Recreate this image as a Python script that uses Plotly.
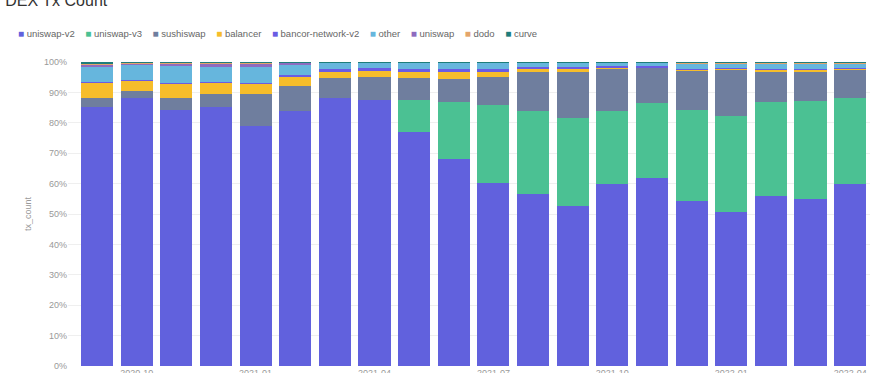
import plotly.graph_objects as go

months = ["2020-09", "2020-10", "2020-11", "2020-12", "2021-01", "2021-02", "2021-03",
          "2021-04", "2021-05", "2021-06", "2021-07", "2021-08", "2021-09", "2021-10",
          "2021-11", "2021-12", "2022-01", "2022-02", "2022-03", "2022-04"]
tick_months = ["2020-10", "2021-01", "2021-04", "2021-07", "2021-10", "2022-01", "2022-04"]

uniswap_v2 = [85.3, 88.0, 84.3, 85.2, 79.1, 83.8, 88.2, 87.7, 77.0, 68.2,
              60.3, 56.5, 52.6, 60.0, 62.0, 54.3, 50.5, 55.9, 55.1, 60.0]
uniswap_v3 = [0, 0, 0, 0, 0, 0, 0, 0, 10.4, 18.6,
              25.6, 27.3, 29.0, 23.8, 24.6, 29.8, 31.8, 30.9, 32.1, 28.2]
sushiswap = [3.0, 2.5, 3.9, 4.4, 10.3, 8.3, 6.4, 7.4, 7.3, 7.5,
             9.3, 12.7, 15.0, 14.0, 11.6, 13.0, 15.1, 10.2, 9.8, 9.3]
balancer = [5.0, 3.3, 4.7, 3.6, 3.5, 3.0, 2.4, 1.9, 2.0, 2.2,
            1.6, 1.0, 1.0, 0.3, 0.2, 0.5, 0.4, 0.5, 0.5, 0.4]
bancor_network_v2 = [0.1, 0.2, 0.2, 0.3, 0.3, 0.5, 0.6, 1.0, 0.9, 1.3,
                     1.1, 0.9, 0.9, 0.6, 0.3, 0.1, 0.1, 0.1, 0.1, 0.1]
other = [4.9, 4.9, 5.6, 4.9, 5.2, 3.3, 2.2, 1.9, 2.2, 2.0,
         2.0, 1.4, 1.4, 1.0, 1.2, 1.9, 1.7, 2.0, 2.0, 1.6]
uniswap = [0.8, 0.7, 0.7, 1.2, 1.0, 0.8, 0.1, 0.05, 0.05, 0.05,
           0.05, 0.05, 0.05, 0.2, 0.05, 0.05, 0.05, 0.05, 0.05, 0.05]
dodo = [0.5, 0.3, 0.5, 0.3, 0.5, 0.2, 0.05, 0.05, 0.05, 0.05,
        0.05, 0.05, 0.05, 0.05, 0.05, 0.3, 0.3, 0.3, 0.3, 0.3]
curve = [0.4, 0.1, 0.1, 0.1, 0.1, 0.1, 0.05, 0.05, 0.05, 0.05,
         0.05, 0.05, 0.05, 0.05, 0.05, 0.05, 0.05, 0.05, 0.05, 0.05]

series_names = ["uniswap-v2", "uniswap-v3", "sushiswap", "balancer", "bancor-network-v2",
                "other", "uniswap", "dodo", "curve"]
series_values = [uniswap_v2, uniswap_v3, sushiswap, balancer, bancor_network_v2,
                 other, uniswap, dodo, curve]
series_colors = ["#6161DD", "#4BC193", "#6F7E9E", "#F6BD2B", "#6A5CE3",
                 "#66B6DD", "#8E6BBF", "#E4A56B", "#1E7D7B"]

FONT = "Liberation Sans, Arial, sans-serif"

fig = go.Figure()
for name, vals, col in zip(series_names, series_values, series_colors):
    fig.add_trace(go.Bar(x=months, y=vals, name=name, marker=dict(color=col, line=dict(width=0)),
                         showlegend=False))

# legend as a single text line
parts = []
for name, col in zip(series_names, series_colors):
    parts.append('<span style="color:%s;font-size:10px">■</span>\u00a0%s' % (col, name))
legend_text = "\u00a0\u00a0\u00a0\u00a0".join(parts)

fig.update_layout(
    width=882, height=373,
    margin=dict(l=68, r=12, t=62, b=7, autoexpand=False),
    paper_bgcolor="white", plot_bgcolor="white",
    barmode="stack", barnorm="percent", bargap=0.19,
    font=dict(family=FONT, size=9, color="#999999"),
    title=dict(text="DEX Tx Count", x=0.006, xanchor="left", y=1.0, yanchor="middle",
               yref="container", font=dict(family=FONT, size=16, color="#333333")),
    xaxis=dict(type="category", range=[-0.732, 19.5], tickmode="array", tickvals=tick_months,
               ticktext=tick_months, showgrid=False, showline=False, ticks="",
               tickfont=dict(size=9, color="#999999"), zeroline=False, automargin=False),
    yaxis=dict(range=[0, 100], dtick=10, ticksuffix="%", showgrid=True, gridcolor="#efefef",
               gridwidth=1, zeroline=False, showline=False, ticks="", automargin=False,
               tickfont=dict(size=9, color="#999999"),
               title=dict(text="tx_count", font=dict(size=9, color="#999999"), standoff=10)),
    annotations=[dict(text=legend_text, xref="paper", yref="paper", x=-0.0648, y=1.095,
                      xanchor="left", yanchor="middle", showarrow=False,
                      font=dict(family=FONT, size=9.5, color="#666666"))],
)

fig.write_html("out.html", config={"displayModeBar": False},
               post_script="document.body.style.margin='0';")
